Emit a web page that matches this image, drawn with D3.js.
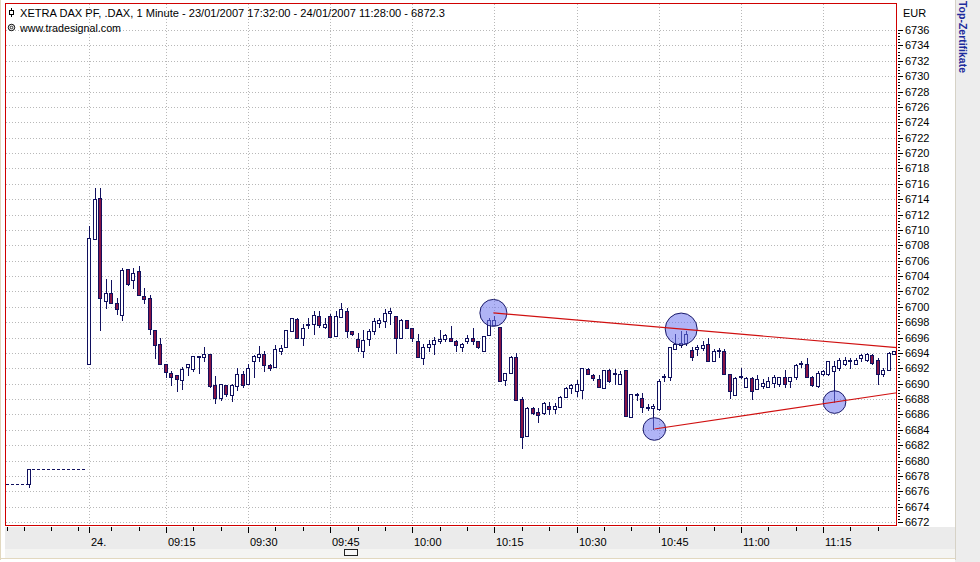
<!DOCTYPE html>
<html><head><meta charset="utf-8">
<script src="https://cdn.jsdelivr.net/npm/d3@7"></script>
<style>
html,body{margin:0;padding:0;background:#fff;overflow:hidden}
svg{display:block}
text{font-family:"Liberation Sans",Arial,sans-serif;font-size:11px;fill:#000}
</style></head>
<body><svg id="c" width="980" height="562"></svg>
<script>
// ---------- DATA ----------
const titleText = "XETRA DAX PF, .DAX, 1 Minute - 23/01/2007 17:32:00 - 24/01/2007 11:28:00 - 6872.3";
const sourceText = "www.tradesignal.com";
const unitText = "EUR";
const sideText = "Top-Zertifikate";

// bars of 24/01/2007, minute index 1 = 09:01 ... 148 = 11:28
const opens = [
6692.6,6708.8,6714.2,6700.7,6701.8,6700.5,6698.9,6704.9,6703.5,6704.7,
6701.4,6701.2,6697.0,6695.2,6692.6,6691.4,6691.1,6690.5,6692.2,6691.9,
6693.4,6693.4,6693.9,6689.8,6688.1,6689.8,6688.5,6689.7,6691.3,6689.9,
6693.0,6693.5,6693.9,6692.4,6692.1,6694.2,6694.7,6696.8,6698.4,6696.0,
6697.7,6697.8,6698.8,6697.4,6698.8,6696.2,6698.7,6699.5,6696.8,6695.8,
6694.2,6695.8,6696.9,6697.9,6698.2,6699.2,6698.8,6696.0,6698.3,6697.2,
6695.6,6693.3,6694.7,6695.2,6695.5,6695.8,6696.0,6695.6,6694.7,6695.5,
6696.0,6695.5,6694.2,6696.3,6697.6,6697.4,6690.5,6691.4,6693.4,6688.0,
6683.2,6686.8,6686.3,6686.2,6687.1,6686.7,6687.0,6688.2,6689.4,6689.1,
6689.2,6691.9,6691.1,6690.6,6689.4,6691.8,6691.3,6690.0,6691.8,6685.7,
6688.6,6688.1,6687.0,6686.8,6686.7,6690.8,6690.8,6694.5,6695.0,6695.3,
6694.4,6694.5,6694.6,6695.2,6692.9,6694.2,6694.3,6691.3,6688.5,6691.0,
6689.6,6690.7,6689.3,6689.7,6689.5,6690.1,6689.9,6690.9,6690.4,6690.8,
6692.6,6692.6,6690.8,6689.7,6691.3,6691.3,6691.7,6692.0,6692.6,6692.9,
6692.6,6693.3,6693.1,6693.7,6693.1,6691.3,6691.8,6693.9];
const highs = [
6710.5,6715.4,6715.4,6703.6,6703.5,6701.1,6705.0,6704.9,6705.1,6705.3,
6702.4,6701.5,6697.0,6695.9,6692.6,6691.7,6691.1,6692.1,6692.6,6693.6,
6693.6,6694.8,6693.9,6691.0,6690.0,6689.8,6690.0,6692.0,6691.6,6692.6,
6693.7,6694.9,6694.2,6692.6,6695.0,6695.0,6697.0,6698.5,6698.6,6697.8,
6698.5,6699.4,6699.5,6698.5,6699.1,6699.4,6700.5,6699.9,6696.8,6696.6,
6697.0,6697.1,6698.6,6698.5,6699.7,6699.9,6698.8,6698.4,6698.3,6697.3,
6696.5,6695.2,6695.7,6696.1,6697.0,6696.5,6697.5,6695.7,6695.3,6696.3,
6697.3,6695.5,6696.2,6698.5,6698.8,6697.4,6691.4,6693.6,6694.0,6688.2,
6686.9,6687.0,6686.8,6687.6,6687.6,6687.5,6688.4,6689.6,6690.0,6690.5,
6692.0,6692.0,6691.3,6691.1,6691.8,6691.9,6691.9,6691.6,6691.8,6688.7,
6688.8,6688.8,6687.4,6687.4,6690.6,6691.3,6694.7,6696.5,6696.8,6696.9,
6694.8,6695.0,6695.6,6696.0,6694.5,6694.6,6694.5,6691.3,6690.9,6692.0,
6690.8,6690.9,6691.1,6690.6,6690.8,6691.1,6690.8,6691.8,6690.9,6692.5,
6693.0,6693.3,6691.0,6691.6,6691.8,6693.0,6693.0,6693.3,6693.5,6693.3,
6693.3,6693.9,6694.0,6693.9,6693.3,6692.0,6694.1,6694.3];
const lows = [
6692.6,6708.8,6697.0,6699.8,6700.5,6699.1,6698.3,6702.8,6702.4,6701.5,
6700.5,6696.5,6693.3,6692.6,6690.8,6689.8,6689.0,6689.3,6691.1,6691.6,
6691.4,6692.9,6689.5,6687.5,6687.9,6688.4,6687.7,6689.2,6689.6,6689.9,
6690.8,6692.9,6691.7,6691.8,6692.1,6693.9,6694.7,6696.8,6696.0,6695.0,
6697.2,6696.5,6697.4,6697.2,6696.1,6696.2,6698.7,6696.1,6696.3,6694.3,
6693.5,6695.0,6696.5,6697.4,6697.4,6697.8,6694.0,6696.0,6697.2,6695.5,
6693.5,6692.6,6694.3,6693.9,6695.3,6695.5,6695.5,6694.3,6694.3,6695.3,
6695.2,6694.6,6694.2,6696.3,6697.6,6690.3,6689.8,6691.4,6687.9,6681.6,
6683.2,6686.1,6685.0,6686.1,6686.0,6686.2,6687.0,6688.2,6688.8,6688.4,
6688.1,6691.2,6690.5,6689.5,6689.4,6690.2,6690.0,6690.0,6685.8,6685.7,
6687.9,6686.3,6686.6,6684.1,6686.6,6690.4,6690.5,6694.5,6694.8,6695.0,
6693.1,6693.7,6694.4,6692.9,6692.9,6693.4,6691.3,6688.1,6688.5,6690.7,
6689.6,6688.0,6689.3,6689.4,6689.5,6689.5,6689.7,6689.5,6689.5,6690.6,
6692.2,6690.8,6689.7,6689.5,6691.1,6691.1,6687.6,6691.8,6692.4,6692.0,
6692.5,6693.0,6692.9,6692.6,6690.0,6691.0,6691.8,6693.8];
const closes = [
6708.9,6714.0,6701.2,6701.8,6700.5,6699.7,6704.8,6703.0,6704.4,6701.5,
6701.0,6697.1,6695.0,6692.6,6691.5,6690.9,6690.6,6691.9,6692.5,6693.6,
6693.6,6693.9,6689.7,6688.1,6690.0,6688.6,6689.8,6691.3,6689.8,6692.0,
6693.6,6693.9,6692.4,6692.0,6694.5,6694.6,6697.0,6698.5,6696.0,6697.2,
6697.8,6698.9,6697.6,6697.8,6696.1,6698.8,6699.7,6696.8,6696.5,6694.8,
6695.7,6696.8,6698.1,6698.3,6699.2,6699.4,6696.0,6698.3,6697.3,6695.9,
6693.5,6694.7,6695.2,6695.7,6695.8,6696.3,6695.5,6695.0,6695.2,6695.9,
6695.5,6694.7,6696.2,6698.3,6698.3,6690.3,6691.4,6693.5,6687.9,6683.1,
6686.8,6686.2,6685.9,6687.5,6686.7,6687.1,6688.3,6689.4,6689.8,6690.0,
6692.0,6691.3,6690.7,6689.6,6691.8,6690.4,6691.4,6691.3,6685.8,6688.7,
6688.7,6687.0,6686.8,6687.1,6690.4,6691.0,6694.7,6695.2,6695.3,6696.5,
6693.4,6694.8,6695.0,6692.9,6694.2,6694.4,6691.3,6689.0,6690.7,6690.8,
6690.7,6689.1,6690.6,6690.1,6690.4,6690.8,6690.8,6689.9,6690.8,6692.4,
6692.7,6690.8,6689.8,6691.4,6691.6,6692.9,6692.3,6693.1,6693.1,6693.1,
6693.1,6693.7,6693.9,6692.7,6691.3,6691.8,6694.0,6694.2];

// previous evening bar (23/01) and its flat "no trade" levels
const preBarIndex = [-10];
const preOpen = [6676.9], preHigh = [6678.9], preLow = [6676.5], preClose = [6678.9];

// price axis
const priceTicks = d3.range(6672, 6737, 2);
// time axis
const majorTickBars = [1, 15, 30, 45, 60, 75, 90, 105, 120, 135];
const majorTickLabels = ["24.", "09:15", "09:30", "09:45", "10:00", "10:15", "10:30", "10:45", "11:00", "11:15"];
const minorTickBars = [-14, -11, -6, -1, 5, 10, 20, 25, 35, 40, 50, 55, 65, 70, 80, 85, 95, 100, 110, 115, 125, 130, 140, 145];

// marked pivots and trend lines drawn through them
const pivotBars = [74.8, 109.1, 104.2, 137.1];
const pivotValues = [6699.2, 6697.1, 6684.1, 6687.6];
const trendFrom = [0, 2];
const trendThrough = [1, 3];

// ---------- DRAW ----------
const svg = d3.select("#c");
const P = {left: 5, top: 3, right: 897, bottom: 526};
const x = d3.scaleLinear().domain([0, 148]).range([83.8, 894.2]);
const y = d3.scaleLinear().domain([6672, 6736]).range([522, 30]);
const navy = "#10105e", downFill = "#861446", frameRed = "#d00000";
const px = v => Math.round(v) + 0.5;

svg.append("rect").attr("width", 980).attr("height", 562).attr("fill", "#fff");
// bottom bands
svg.append("rect").attr("x", 5).attr("y", 527).attr("width", 950).attr("height", 22).attr("fill", "#ebebeb");
svg.append("rect").attr("x", 5).attr("y", 549).attr("width", 950).attr("height", 9).attr("fill", "#f4f4f2");
svg.append("line").attr("x1", 0).attr("x2", 980).attr("y1", 558.5).attr("y2", 558.5).attr("stroke", "#e2d8bf");
svg.append("line").attr("x1", 0.5).attr("x2", 0.5).attr("y1", 0).attr("y2", 560).attr("stroke", "#e2d8bf");
// right panel
svg.append("rect").attr("x", 955).attr("y", 0).attr("width", 25).attr("height", 562).attr("fill", "#ededed");
svg.append("line").attr("x1", 955.5).attr("x2", 955.5).attr("y1", 0).attr("y2", 560).attr("stroke", "#d6d2c6");
svg.append("text").attr("transform", "translate(959,1) rotate(90)")
  .attr("textLength", 72).attr("lengthAdjust", "spacingAndGlyphs")
  .style("font-weight", "bold").style("font-size", "11px").style("fill", "#1e2c9c").text(sideText);

// grid
const g = svg.append("g");
g.selectAll("line.h").data(priceTicks).join("line")
  .attr("x1", P.left + 1).attr("x2", P.right - 1)
  .attr("y1", d => px(y(d))).attr("y2", d => px(y(d)))
  .attr("stroke", "#b8b8b8").attr("stroke-dasharray", "1,2");
g.selectAll("line.v").data(majorTickBars).join("line")
  .attr("x1", d => px(x(d))).attr("x2", d => px(x(d)))
  .attr("y1", P.top + 1).attr("y2", P.bottom - 1)
  .attr("stroke", "#b8b8b8").attr("stroke-dasharray", "1,2");

// header
const hd = svg.append("g");
hd.append("line").attr("x1", 11.5).attr("x2", 11.5).attr("y1", 8).attr("y2", 17).attr("stroke", "#000");
hd.append("rect").attr("x", 9.5).attr("y", 10.5).attr("width", 4).attr("height", 4).attr("fill", "#fff").attr("stroke", "#000");
hd.append("text").attr("x", 20).attr("y", 17).attr("textLength", 425).attr("lengthAdjust", "spacingAndGlyphs").text(titleText);
hd.append("circle").attr("cx", 11.5).attr("cy", 27.5).attr("r", 3.2).attr("fill", "none").attr("stroke", "#000");
hd.append("circle").attr("cx", 11.5).attr("cy", 27.5).attr("r", 1.3).attr("fill", "none").attr("stroke", "#000").attr("stroke-width", 0.8);
hd.append("text").attr("x", 20).attr("y", 31.5).attr("textLength", 101).attr("lengthAdjust", "spacingAndGlyphs").text(sourceText);

// candles
const bars = opens.map((o, i) => ({i: i + 1, o, h: highs[i], l: lows[i], c: closes[i]}));
const pre = preBarIndex.map((b, i) => ({i: b, o: preOpen[i], h: preHigh[i], l: preLow[i], c: preClose[i]}));
const all = pre.concat(bars);
const cg = svg.append("g");
cg.selectAll("line.w").data(all).join("line")
  .attr("x1", d => px(x(d.i))).attr("x2", d => px(x(d.i)))
  .attr("y1", d => Math.round(y(d.h))).attr("y2", d => Math.round(y(d.l)) + 1)
  .attr("stroke", navy);
cg.selectAll("rect").data(all).join("rect")
  .attr("x", d => Math.round(x(d.i)) - 1.5)
  .attr("width", 3)
  .attr("y", d => Math.round(y(Math.max(d.o, d.c))) + 0.5)
  .attr("height", d => Math.max(1, Math.round(y(Math.min(d.o, d.c))) - Math.round(y(Math.max(d.o, d.c)))))
  .attr("fill", d => d.c >= d.o ? "#fff" : downFill)
  .attr("stroke", navy);

// pre-market dashed levels
const pb = pre[0];
svg.append("line").attr("x1", P.left + 1).attr("x2", Math.round(x(pb.i)) - 2)
  .attr("y1", px(y(pb.o))).attr("y2", px(y(pb.o))).attr("stroke", navy).attr("stroke-dasharray", "3,2");
svg.append("line").attr("x1", Math.round(x(pb.i)) + 3).attr("x2", x(0.6))
  .attr("y1", px(y(pb.c))).attr("y2", px(y(pb.c))).attr("stroke", navy).attr("stroke-dasharray", "3,2");

// clip for drawings
svg.append("clipPath").attr("id", "pc").append("rect")
  .attr("x", P.left).attr("y", P.top).attr("width", P.right - P.left).attr("height", P.bottom - P.top);
const dg = svg.append("g").attr("clip-path", "url(#pc)");
const radii = [13.5, 16, 11.3, 11.3];
dg.selectAll("circle").data(pivotBars).join("circle")
  .attr("cx", (d) => x(d)).attr("cy", (d, i) => y(pivotValues[i]))
  .attr("r", (d, i) => radii[i])
  .attr("fill", "rgba(112,118,238,0.55)").attr("stroke", "#1a1a6a").attr("stroke-width", 1);
const endBar = x.invert(P.right);
trendFrom.forEach((a, k) => {
  const b = trendThrough[k];
  const slope = (pivotValues[b] - pivotValues[a]) / (pivotBars[b] - pivotBars[a]);
  const vEnd = pivotValues[a] + slope * (endBar - pivotBars[a]);
  dg.append("line").attr("x1", x(pivotBars[a])).attr("y1", y(pivotValues[a]))
    .attr("x2", x(endBar)).attr("y2", y(vEnd))
    .attr("stroke", "#d01010").attr("stroke-width", 1.1);
});

// frame
svg.append("rect").attr("x", P.left + 0.5).attr("y", P.top + 0.5)
  .attr("width", P.right - P.left - 1).attr("height", P.bottom - P.top - 1)
  .attr("fill", "none").attr("stroke", frameRed);

// price axis
const ya = svg.append("g");
const minorVals = d3.range(0, 161).map(k => 6672 + k * 0.4);
ya.selectAll("line.m").data(minorVals).join("line")
  .attr("x1", 898).attr("x2", 900).attr("y1", d => px(y(d))).attr("y2", d => px(y(d)))
  .attr("stroke", "#000");
ya.selectAll("line.M").data(priceTicks).join("line")
  .attr("x1", 898).attr("x2", 903).attr("y1", d => px(y(d))).attr("y2", d => px(y(d)))
  .attr("stroke", "#000");
ya.selectAll("text").data(priceTicks).join("text")
  .attr("x", 905).attr("y", d => Math.round(y(d)) + 4).text(d => d);
svg.append("text").attr("x", 903).attr("y", 17).text(unitText);

// time axis
const xa = svg.append("g");
xa.selectAll("line.m").data(minorTickBars).join("line")
  .attr("x1", d => px(x(d))).attr("x2", d => px(x(d))).attr("y1", 527).attr("y2", 531)
  .attr("stroke", "#000");
xa.selectAll("line.M").data(majorTickBars).join("line")
  .attr("x1", d => px(x(d))).attr("x2", d => px(x(d))).attr("y1", 527).attr("y2", 533)
  .attr("stroke", "#000");
xa.selectAll("text").data(majorTickBars).join("text")
  .attr("x", d => Math.round(x(d)) + 2).attr("y", 546).text((d, i) => majorTickLabels[i]);

// scroll thumb
svg.append("rect").attr("x", 344.5).attr("y", 549.5).attr("width", 13).attr("height", 6)
  .attr("fill", "#f8f8f8").attr("stroke", "#222");
</script>
</body></html>
